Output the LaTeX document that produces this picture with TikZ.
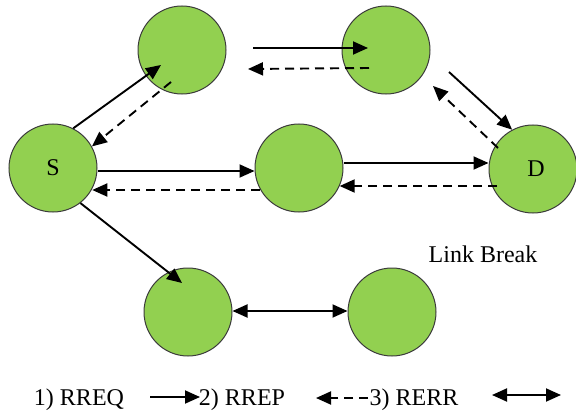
\documentclass[tikz,border=0pt]{standalone}
\usepackage{fontspec}
\setmainfont{Liberation Serif}
\usetikzlibrary{arrows.meta,calc}
\definecolor{nodegreen}{RGB}{146,208,80}
\definecolor{rim}{RGB}{60,60,60}
\begin{document}
\begin{tikzpicture}[x=1pt,y=-1pt,
  nd/.style={circle,fill=nodegreen,draw=rim,line width=1pt,minimum size=88pt,inner sep=0pt,font=\fontsize{24}{28}\selectfont},
  req/.style={line width=1.9pt,-{Triangle[length=15pt,width=13pt]}},
  rep/.style={req,dash pattern=on 9pt off 6pt},
  brk/.style={line width=1.9pt,{Triangle[length=15pt,width=13pt]}-{Triangle[length=15pt,width=13pt]}},
  lbl/.style={inner sep=0pt,anchor=base,font=\fontsize{24}{28}\selectfont}]
\useasboundingbox[fill=white] (0,0) rectangle (576,412);
% nodes
\node[nd] (A) at (182,50) {};
\node[nd] (B) at (386,50) {};
\node[nd] (S) at (53,168) {\raisebox{-2pt}{S}};
\node[nd] (M) at (299,168) {};
\node[nd] (D) at (533,169) {\raisebox{-1pt}{\hspace{6pt}D}};
\node[nd] (E) at (188,312) {};
\node[nd] (F) at (392,312) {};
% free ends of connectors
\coordinate (a1) at ($(A.center)+(-21,15)$);
\coordinate (a2) at ($(A.center)+(-11,32)$);
\coordinate (ab1) at ($(A.center)+(71,-2)$);
\coordinate (ab2) at ($(B.center)+(-18,-2)$);
\coordinate (ba1) at ($(B.center)+(-17,18)$);
\coordinate (ba2) at ($(A.center)+(66,19)$);
\coordinate (bd1) at ($(B.center)+(63,22)$);
\coordinate (db1) at ($(D.center)+(-35,-21)$);
\coordinate (db2) at ($(B.center)+(47,36)$);
\coordinate (ms1) at ($(M.center)+(-39,22)$);
\coordinate (dm1) at ($(D.center)+(-36,17)$);
\coordinate (se1) at ($(E.center)+(-6,-29)$);
% connectors
\draw[req] (S.63) -- (a1);
\draw[rep] (a2) -- (S.29);
\draw[req] (ab1) -- (ab2);
\draw[rep] (ba1) -- (ba2);
\draw[req] (bd1) -- (D.118);
\draw[rep] (db1) -- (db2);
\draw[req] ([yshift=-3pt]S.east) -- ([yshift=-3pt]M.west);
\draw[rep] (ms1) -- (S.-28 |- ms1);
\draw[req] ([yshift=5pt]M.east) -- ([yshift=6pt]D.west);
\draw[rep] (dm1) -- (M.-24 |- dm1);
\draw[req] (S.-52) -- (se1);
\draw[brk] ([yshift=1pt]E.east) -- ([yshift=1pt]F.west);
% labels and legend
\node[lbl] (lb) at (483,262) {Link Break};
\node[lbl] (l1) at (79,405) {1) RREQ};
\node[lbl] (l2) at (242,405) {2) RREP};
\node[lbl] (l3) at (414,405) {3) RERR};
\coordinate (k1) at (150,397);
\coordinate (k2) at (200,397);
\coordinate (k3) at (368,398);
\coordinate (k4) at (316,398);
\coordinate (k5) at (492,395);
\coordinate (k6) at (561,395);
\draw[req] (k1) -- (k2);
\draw[rep] (k3) -- (k4);
\draw[brk] (k5) -- (k6);
\end{tikzpicture}
\end{document}
